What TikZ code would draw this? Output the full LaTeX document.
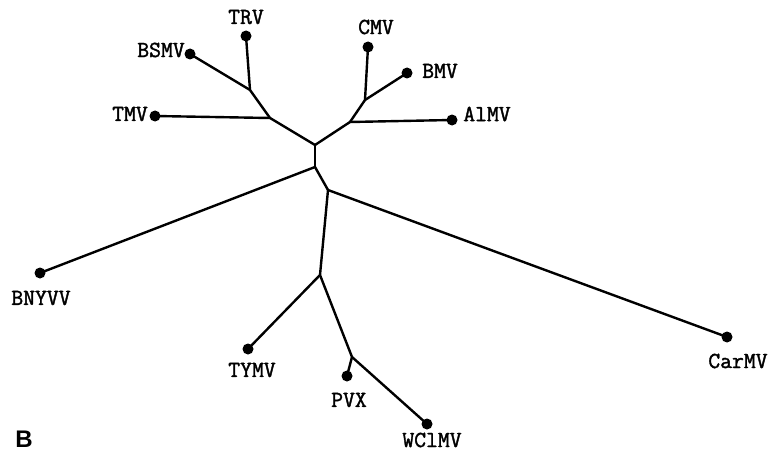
\documentclass[tikz,border=0pt]{standalone}
\usepackage{fontspec}
\setsansfont{Liberation Sans}
\newfontfamily\labfont{Latin Modern Mono}[FakeBold=1.6]
\begin{document}
\begin{tikzpicture}[x=1pt,y=-1pt,
  br/.style={line width=2.4pt,line cap=round,line join=round},
  leaf/.style={circle,fill=black,inner sep=0pt,minimum size=11pt},
  lab/.style={font=\fontsize{23}{23}\labfont\bfseries,inner sep=0pt}]
\useasboundingbox (0,0) rectangle (769,452);
% internal nodes
\coordinate (n1) at (250,90);
\coordinate (n2) at (270,118);
\coordinate (n3) at (315,145);
\coordinate (n4) at (350,122);
\coordinate (n5) at (365,100);
\coordinate (n6) at (315,167);
\coordinate (n7) at (328,190);
\coordinate (n8) at (320,275);
\coordinate (n9) at (352,357);
% leaves
\node[leaf] (TRV) at (246,36) {};
\node[leaf] (BSMV) at (190,54) {};
\node[leaf] (TMV) at (155,116) {};
\node[leaf] (CMV) at (368,47) {};
\node[leaf] (BMV) at (407,73) {};
\node[leaf] (AlMV) at (452,120) {};
\node[leaf] (BNYVV) at (40,273) {};
\node[leaf] (TYMV) at (248,349) {};
\node[leaf] (PVX) at (347,376) {};
\node[leaf] (WClMV) at (427,424) {};
\node[leaf] (CarMV) at (727,337) {};
% labels
\node[lab] (lTRV) at (246,17) {TRV};
\node[lab] (lBSMV) at (161,50) {BSMV};
\node[lab] (lTMV) at (130,114) {TMV};
\node[lab] (lCMV) at (376,27) {CMV};
\node[lab] (lBMV) at (440,71) {BMV};
\node[lab] (lAlMV) at (487,114) {AlMV};
\node[lab] (lBNYVV) at (41,298) {BNYVV};
\node[lab] (lTYMV) at (252,370) {TYMV};
\node[lab] (lPVX) at (349,400) {PVX};
\node[lab] (lWClMV) at (432,440) {WClMV};
\node[lab] (lCarMV) at (738,361) {CarMV};
\node[font=\sffamily\bfseries\fontsize{24}{24}\selectfont,inner sep=0pt] (B) at (24,439) {B};
% branches
\draw[br] (TRV.center) -- (n1);
\draw[br] (BSMV.center) -- (n1);
\draw[br] (n1) -- (n2);
\draw[br] (TMV.center) -- (n2);
\draw[br] (n2) -- (n3);
\draw[br] (n3) -- (n4);
\draw[br] (n4) -- (AlMV.center);
\draw[br] (n4) -- (n5);
\draw[br] (n5) -- (BMV.center);
\draw[br] (n5) -- (CMV.center);
\draw[br] (n3) -- (n6);
\draw[br] (n6) -- (BNYVV.center);
\draw[br] (n6) -- (n7);
\draw[br] (n7) -- (CarMV.center);
\draw[br] (n7) -- (n8);
\draw[br] (n8) -- (TYMV.center);
\draw[br] (n8) -- (n9);
\draw[br] (n9) -- (PVX.center);
\draw[br] (n9) -- (WClMV.center);
\end{tikzpicture}
\end{document}
